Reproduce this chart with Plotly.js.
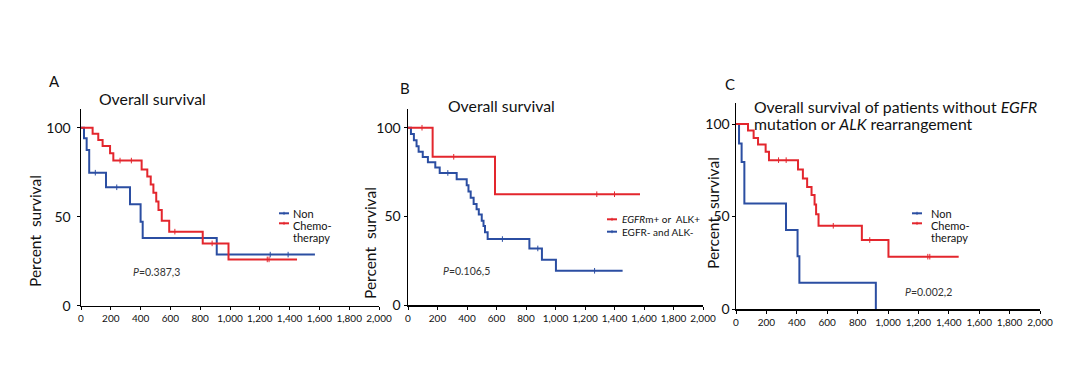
<!DOCTYPE html>
<html><head><meta charset="utf-8">
<script src="https://cdn.plot.ly/plotly-3.0.1.min.js"></script>
<style>html,body{margin:0;padding:0;background:#fff;} #chart{width:1080px;height:366px;}</style>
</head><body><div id="chart"></div>
<script>
// ---------- Data (days, percent survival) ----------
// Panel A: Overall survival, Non vs Chemotherapy
const aChemoX = [0, 78, 116, 145, 195, 217, 407, 445, 468, 486, 505, 520, 542, 592, 817, 990];
const aChemoY = [100, 96.5, 93, 89.7, 85.6, 81.5, 76.5, 72.5, 68, 63.5, 58.5, 53.8, 47.7, 41.6, 35, 26];
const aChemoEnd = 1450;
const aChemoCens = [262, 338, 630, 880, 1250, 1262];
const aNonX = [0, 20, 38, 55, 168, 329, 400, 414, 911];
const aNonY = [100, 94, 87.5, 74.7, 66.5, 57, 47.2, 38, 28.7];
const aNonEnd = 1570;
const aNonCens = [96, 240, 1270, 1390];

// Panel B: EGFRm+ or ALK+ vs EGFR- and ALK-
const bPosX = [0, 167, 590];
const bPosY = [100, 83.6, 62.5];
const bPosEnd = 1573;
const bPosCens = [95, 310, 1280, 1400];
const bNegX = [0, 20, 40, 58, 72, 100, 135, 185, 215, 330, 398, 410, 425, 445, 465, 480, 500, 512, 522, 540, 823, 908, 1003];
const bNegY = [100, 96.5, 93, 89.5, 86.5, 83.5, 80.5, 77.5, 74.5, 71, 67.5, 64, 60.5, 57, 54, 51, 47.5, 44.5, 41, 37.2, 31.9, 25.5, 19.3];
const bNegEnd = 1455;
const bNegCens = [270, 640, 880, 1265];

// Panel C: patients without EGFR mutation or ALK rearrangement
const cChemoX = [0, 79, 116, 145, 195, 217, 408, 440, 468, 497, 517, 527, 543, 828, 1003];
const cChemoY = [100, 96.5, 92.5, 89, 85, 80.5, 75.5, 70.6, 66, 61.6, 56.5, 51.3, 45, 37.3, 28.3];
const cChemoEnd = 1465;
const cChemoCens = [280, 330, 640, 880, 1262, 1275];
const cNonX = [0, 20, 37, 55, 329, 405, 417, 920];
const cNonY = [100, 89.5, 79.5, 57, 42.7, 28.5, 14.2, 0];
const cNonEnd = 920;
const cNonCens = [];

const yTicks = [0, 50, 100];
const pA = '0.387,3', pB = '0.106,5', pC = '0.002,2';

// ---------- Styling ----------
const RED = '#e3262d', BLUE = '#2b4ea2';
const FONT = 'Lato, "Open Sans", sans-serif';
const W = 1080, H = 366;
const fx = v => v / W, fy = v => 1 - v / H;

function survAt(xs, ys, t) { let v = ys[0]; for (let i = 0; i < xs.length; i++) { if (xs[i] <= t) v = ys[i]; } return v; }
function curve(xs, ys, end, cens, color, name, xa, ya) {
  const lx = xs.concat([end]), ly = ys.concat([ys[ys.length - 1]]);
  const t1 = { type: 'scatter', mode: 'lines', x: lx, y: ly, name: name, xaxis: xa, yaxis: ya,
    line: { shape: 'hv', color: color, width: 2 }, showlegend: false, hoverinfo: 'x+y+name' };
  const t2 = { type: 'scatter', mode: 'markers', x: cens, y: cens.map(t => survAt(xs, ys, t)), name: name + ' (censored)',
    xaxis: xa, yaxis: ya, showlegend: false,
    marker: { symbol: 'line-ns', size: 4, color: color, line: { width: 1, color: color } } };
  return [t1, t2];
}

const data = [].concat(
  curve(aNonX, aNonY, aNonEnd, aNonCens, BLUE, 'Non', 'x', 'y'),
  curve(aChemoX, aChemoY, aChemoEnd, aChemoCens, RED, 'Chemotherapy', 'x', 'y'),
  curve(bNegX, bNegY, bNegEnd, bNegCens, BLUE, 'EGFR- and ALK-', 'x2', 'y2'),
  curve(bPosX, bPosY, bPosEnd, bPosCens, RED, 'EGFRm+ or ALK+', 'x2', 'y2'),
  curve(cNonX, cNonY, cNonEnd, cNonCens, BLUE, 'Non', 'x3', 'y3'),
  curve(cChemoX, cChemoY, cChemoEnd, cChemoCens, RED, 'Chemotherapy', 'x3', 'y3')
);

function xax(l, r, anchor) {
  return { domain: [fx(l), fx(r)], range: [0, 2000], tick0: 0, dtick: 200, separatethousands: true, anchor: anchor,
    showline: true, linecolor: '#000', linewidth: 1.5, ticks: 'outside', ticklen: 3, tickwidth: 1, tickcolor: '#000',
    showgrid: false, zeroline: false, tickfont: { family: FONT, size: 10, color: '#111' }, fixedrange: true };
}
function yax(bot, top, rTop, anchor, standoff) {
  return { domain: [fy(bot), fy(top)], range: [0, rTop], tickvals: yTicks, anchor: anchor,
    showline: true, linecolor: '#000', linewidth: 1.5, ticks: 'outside', ticklen: 3, tickwidth: 1, tickcolor: '#000',
    ticklabelstandoff: standoff, showgrid: false, zeroline: false,
    tickfont: { family: FONT, size: 14, color: '#111' }, fixedrange: true };
}

function ann(text, x, y, size, opts) {
  return Object.assign({ text: text, xref: 'paper', yref: 'paper', x: fx(x), y: fy(y), xanchor: 'left', yanchor: 'middle',
    showarrow: false, font: { family: FONT, size: size, color: '#111' } }, opts || {});
}
function ytitle(x, y) {
  return ann('Percent  survival', x, y, 15.5, { xanchor: 'center', textangle: -90 });
}
function sample(x0, x1, y, color) {
  return [
    { type: 'line', xref: 'paper', yref: 'paper', x0: fx(x0), x1: fx(x1), y0: fy(y), y1: fy(y), line: { color: color, width: 2 } },
    { type: 'line', xref: 'paper', yref: 'paper', x0: fx((x0 + x1) / 2), x1: fx((x0 + x1) / 2), y0: fy(y - 1.5), y1: fy(y + 1.5), line: { color: color, width: 1 } }
  ];
}

const annotations = [
  ann('A', 47, 81, 15), ann('B', 398, 88, 15), ann('C', 723, 84, 15),
  ann('Overall survival', 97, 98.5, 15.8),
  ann('Overall survival', 446, 105, 15.8),
  ann('Overall survival of patients without <i>EGFR</i>', 752, 106, 15.8),
  ann('mutation or <i>ALK</i> rearrangement', 752, 123.5, 15.8),
  ytitle(35, 231), ytitle(370, 243), ytitle(713, 213),
  // legends
  ann('Non', 291, 213.3, 11), ann('Chemo-', 291, 225, 11), ann('therapy', 291, 237.7, 11),
  ann('<i>EGFR</i>m+ or  ALK+', 620, 219.3, 10), ann('EGFR- and ALK-', 620, 231.7, 10),
  ann('Non', 929, 213.3, 11), ann('Chemo-', 929, 225, 11), ann('therapy', 929, 237.7, 11),
  // p-values
  ann('<i>P</i>=' + pA, 131, 271.7, 10.5, { font: { family: FONT, size: 10.5, color: '#333' } }),
  ann('<i>P</i>=' + pB, 441, 270.7, 10.5, { font: { family: FONT, size: 10.5, color: '#333' } }),
  ann('<i>P</i>=' + pC, 903, 292.3, 10.5, { font: { family: FONT, size: 10.5, color: '#333' } })
];

const shapes = [].concat(
  sample(279, 289, 213.3, BLUE), sample(279, 289, 223.3, RED),
  sample(607, 617, 219.3, RED), sample(607, 617, 231.7, BLUE),
  sample(912, 922, 213.3, BLUE), sample(912, 922, 223.3, RED)
);

const layout = {
  width: W, height: H, margin: { l: 0, r: 0, t: 0, b: 0 },
  paper_bgcolor: '#fff', plot_bgcolor: '#fff', showlegend: false,
  font: { family: FONT },
  xaxis: xax(81, 379, 'y'), yaxis: yax(305.7, 109.3, 110.3, 'x', 3),
  xaxis2: xax(408, 703, 'y2'), yaxis2: yax(305, 109.3, 110.4, 'x2', 0),
  xaxis3: xax(736, 1040, 'y3'), yaxis3: yax(309, 103, 111.4, 'x3', -1),
  annotations: annotations, shapes: shapes
};

Plotly.newPlot('chart', data, layout, { displayModeBar: false, staticPlot: true });
</script></body></html>
